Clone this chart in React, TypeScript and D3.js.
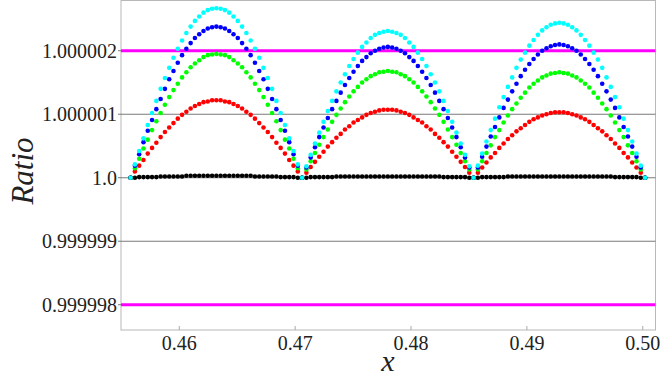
// App.tsx

import React, { useEffect, useRef } from "react";
import * as d3 from "d3";

// sample positions along x
const xs = [
  0.4558, 0.45617, 0.45654, 0.45691, 0.45728, 0.45765, 0.45802, 0.45839, 0.45876, 0.45913,
  0.4595, 0.45987, 0.46024, 0.46061, 0.46098, 0.46135, 0.46172, 0.46209, 0.46246, 0.46283,
  0.4632, 0.46357, 0.46394, 0.46431, 0.46468, 0.46505, 0.46542, 0.46579, 0.46616, 0.46653,
  0.4669, 0.46727, 0.46764, 0.46801, 0.46838, 0.46875, 0.46912, 0.46949, 0.46986, 0.47023,
  0.4706, 0.47097, 0.47134, 0.47171, 0.47208, 0.47245, 0.47282, 0.47319, 0.47356, 0.47393,
  0.4743, 0.47467, 0.47504, 0.47541, 0.47578, 0.47615, 0.47652, 0.47689, 0.47726, 0.47763,
  0.478, 0.47837, 0.47874, 0.47911, 0.47948, 0.47985, 0.48022, 0.48059, 0.48096, 0.48133,
  0.4817, 0.48207, 0.48244, 0.48281, 0.48318, 0.48355, 0.48392, 0.48429, 0.48466, 0.48503,
  0.4854, 0.48577, 0.48614, 0.48651, 0.48688, 0.48725, 0.48762, 0.48799, 0.48836, 0.48873,
  0.4891, 0.48947, 0.48984, 0.49021, 0.49058, 0.49095, 0.49132, 0.49169, 0.49206, 0.49243,
  0.4928, 0.49317, 0.49354, 0.49391, 0.49428, 0.49465, 0.49502, 0.49539, 0.49576, 0.49613,
  0.4965, 0.49687, 0.49724, 0.49761, 0.49798, 0.49835, 0.49872, 0.49909, 0.49946, 0.49983,
  0.5002,
];

// (ratio - 1) in units of 1e-6
const cyanVals = [
  0, 0.21, 0.42, 0.62, 0.83, 1.02, 1.21, 1.4, 1.57, 1.73, 1.89, 2.03, 2.16, 2.28, 2.38, 2.47, 2.54, 2.6, 2.64, 2.66, 2.67,
  2.66, 2.64, 2.6, 2.54, 2.47, 2.38, 2.28, 2.16, 2.03, 1.89, 1.73, 1.57, 1.4, 1.21, 1.02, 0.83, 0.62, 0.42, 0.21,
  0, 0.18, 0.36, 0.54, 0.71, 0.88, 1.05, 1.21, 1.36, 1.5, 1.63, 1.76, 1.87, 1.97, 2.06, 2.13, 2.2, 2.25, 2.28, 2.3, 2.31,
  2.3, 2.28, 2.25, 2.2, 2.13, 2.06, 1.97, 1.87, 1.76, 1.63, 1.5, 1.36, 1.21, 1.05, 0.88, 0.71, 0.54, 0.36, 0.18,
  0, 0.19, 0.38, 0.57, 0.75, 0.93, 1.11, 1.27, 1.43, 1.58, 1.73, 1.86, 1.97, 2.08, 2.17, 2.25, 2.32, 2.37, 2.41, 2.43, 2.44,
  2.43, 2.41, 2.37, 2.32, 2.25, 2.17, 2.08, 1.97, 1.86, 1.73, 1.58, 1.43, 1.27, 1.11, 0.93, 0.75, 0.57, 0.38, 0.19,
  0,
];
const blueVals = [
  0, 0.19, 0.37, 0.56, 0.74, 0.91, 1.08, 1.24, 1.4, 1.55, 1.68, 1.81, 1.93, 2.03, 2.12, 2.2, 2.26, 2.31, 2.35, 2.37, 2.38,
  2.37, 2.35, 2.31, 2.26, 2.2, 2.12, 2.03, 1.93, 1.81, 1.68, 1.55, 1.4, 1.24, 1.08, 0.91, 0.74, 0.56, 0.37, 0.19,
  0, 0.16, 0.32, 0.48, 0.64, 0.79, 0.94, 1.08, 1.21, 1.34, 1.46, 1.57, 1.67, 1.76, 1.84, 1.9, 1.96, 2.0, 2.03, 2.05, 2.06,
  2.05, 2.03, 2.0, 1.96, 1.9, 1.84, 1.76, 1.67, 1.57, 1.46, 1.34, 1.21, 1.08, 0.94, 0.79, 0.64, 0.48, 0.32, 0.16,
  0, 0.16, 0.33, 0.49, 0.65, 0.8, 0.95, 1.1, 1.23, 1.36, 1.48, 1.6, 1.7, 1.79, 1.87, 1.94, 2.0, 2.04, 2.07, 2.09, 2.1,
  2.09, 2.07, 2.04, 2.0, 1.94, 1.87, 1.79, 1.7, 1.6, 1.48, 1.36, 1.23, 1.1, 0.95, 0.8, 0.65, 0.49, 0.33, 0.16,
  0,
];
const greenVals = [
  0, 0.15, 0.3, 0.46, 0.6, 0.75, 0.89, 1.02, 1.15, 1.27, 1.38, 1.48, 1.58, 1.66, 1.74, 1.8, 1.85, 1.9, 1.93, 1.94, 1.95,
  1.94, 1.93, 1.9, 1.85, 1.8, 1.74, 1.66, 1.58, 1.48, 1.38, 1.27, 1.15, 1.02, 0.89, 0.75, 0.6, 0.46, 0.3, 0.15,
  0, 0.13, 0.26, 0.39, 0.52, 0.64, 0.76, 0.88, 0.99, 1.09, 1.19, 1.28, 1.36, 1.43, 1.5, 1.55, 1.6, 1.63, 1.66, 1.67, 1.68,
  1.67, 1.66, 1.63, 1.6, 1.55, 1.5, 1.43, 1.36, 1.28, 1.19, 1.09, 0.99, 0.88, 0.76, 0.64, 0.52, 0.39, 0.26, 0.13,
  0, 0.13, 0.26, 0.39, 0.51, 0.64, 0.75, 0.87, 0.98, 1.08, 1.17, 1.26, 1.34, 1.42, 1.48, 1.53, 1.58, 1.61, 1.64, 1.65, 1.66,
  1.65, 1.64, 1.61, 1.58, 1.53, 1.48, 1.42, 1.34, 1.26, 1.17, 1.08, 0.98, 0.87, 0.75, 0.64, 0.51, 0.39, 0.26, 0.13,
  0,
];
const redVals = [
  0, 0.1, 0.19, 0.28, 0.38, 0.47, 0.55, 0.64, 0.72, 0.79, 0.86, 0.93, 0.99, 1.04, 1.09, 1.13, 1.16, 1.19, 1.2, 1.22, 1.22,
  1.22, 1.2, 1.19, 1.16, 1.13, 1.09, 1.04, 0.99, 0.93, 0.86, 0.79, 0.72, 0.64, 0.55, 0.47, 0.38, 0.28, 0.19, 0.1,
  0, 0.08, 0.17, 0.25, 0.33, 0.41, 0.49, 0.56, 0.63, 0.69, 0.76, 0.81, 0.87, 0.91, 0.95, 0.99, 1.02, 1.04, 1.06, 1.07, 1.07,
  1.07, 1.06, 1.04, 1.02, 0.99, 0.95, 0.91, 0.87, 0.81, 0.76, 0.69, 0.63, 0.56, 0.49, 0.41, 0.33, 0.25, 0.17, 0.08,
  0, 0.08, 0.16, 0.24, 0.32, 0.39, 0.47, 0.54, 0.61, 0.67, 0.73, 0.78, 0.83, 0.88, 0.92, 0.95, 0.98, 1.0, 1.02, 1.03, 1.03,
  1.03, 1.02, 1.0, 0.98, 0.95, 0.92, 0.88, 0.83, 0.78, 0.73, 0.67, 0.61, 0.54, 0.47, 0.39, 0.32, 0.24, 0.16, 0.08,
  0,
];
const blackVals = [
  0, 0, 0.01, 0.01, 0.01, 0.01, 0.01, 0.02, 0.02, 0.02, 0.02, 0.02, 0.02, 0.03, 0.03, 0.03, 0.03, 0.03, 0.03, 0.03, 0.03,
  0.03, 0.03, 0.03, 0.03, 0.03, 0.03, 0.03, 0.03, 0.02, 0.02, 0.02, 0.02, 0.02, 0.02, 0.01, 0.01, 0.01, 0.01, 0,
  0, 0, 0.01, 0.01, 0.01, 0.01, 0.01, 0.01, 0.02, 0.02, 0.02, 0.02, 0.02, 0.02, 0.02, 0.02, 0.02, 0.02, 0.02, 0.02, 0.02,
  0.02, 0.02, 0.02, 0.02, 0.02, 0.02, 0.02, 0.02, 0.02, 0.02, 0.02, 0.02, 0.01, 0.01, 0.01, 0.01, 0.01, 0.01, 0,
  0, 0, 0.01, 0.01, 0.01, 0.01, 0.01, 0.01, 0.02, 0.02, 0.02, 0.02, 0.02, 0.02, 0.02, 0.02, 0.02, 0.02, 0.02, 0.02, 0.02,
  0.02, 0.02, 0.02, 0.02, 0.02, 0.02, 0.02, 0.02, 0.02, 0.02, 0.02, 0.02, 0.01, 0.01, 0.01, 0.01, 0.01, 0.01, 0,
  0,
];

const xTicks = [0.46, 0.47, 0.48, 0.49, 0.5];
const xTickLabels = ["0.46", "0.47", "0.48", "0.49", "0.50"];
const yTicks = [-2, -1, 0, 1, 2];
const yTickLabels = ["0.999998", "0.999999", "1.0", "1.000001", "1.000002"];
const grayLines = [-1, 0, 1];
const magentaLines = [-2, 2];

const seriesOrder = [
  { name: "red", vals: redVals, color: "#ff0000" },
  { name: "green", vals: greenVals, color: "#00ff00" },
  { name: "blue", vals: blueVals, color: "#0000ff" },
  { name: "black", vals: blackVals, color: "#000000" },
  { name: "cyan", vals: cyanVals, color: "#00ffff" },
];

const App = () => {
  const svgRef = useRef<SVGSVGElement>(null);
  const width = 664;
  const height = 377;
  const left = 121;
  const right = 655.5;
  const top = 0.5;
  const bottom = 330;

  useEffect(() => {
    const svg = d3.select(svgRef.current);
    svg.selectAll("*").remove();

    const x = d3.scaleLinear().domain([0.45497, 0.5011]).range([left, right]);
    const y = d3.scaleLinear().domain([-2.398, 2.791]).range([bottom, top]);
    const serif = "Liberation Serif, DejaVu Serif, Times New Roman, serif";

    // frame
    svg
      .append("rect")
      .attr("x", left)
      .attr("y", top)
      .attr("width", right - left)
      .attr("height", bottom - top)
      .attr("fill", "none")
      .attr("stroke", "#b8b8b8")
      .attr("stroke-width", 1);

    // x ticks (inside, bottom)
    svg
      .selectAll(".xt")
      .data(xTicks)
      .enter()
      .append("line")
      .attr("x1", (d) => x(d))
      .attr("x2", (d) => x(d))
      .attr("y1", bottom)
      .attr("y2", bottom - 4)
      .attr("stroke", "#aaa");

    svg
      .selectAll(".xl")
      .data(xTicks)
      .enter()
      .append("text")
      .attr("x", (d) => x(d))
      .attr("y", 350)
      .attr("text-anchor", "middle")
      .attr("font-family", serif)
      .attr("font-size", 20)
      .attr("fill", "#222")
      .text((d, i) => xTickLabels[i]);

    // y ticks
    svg
      .selectAll(".yt")
      .data(yTicks)
      .enter()
      .append("line")
      .attr("x1", left - 3)
      .attr("x2", left)
      .attr("y1", (d) => y(d))
      .attr("y2", (d) => y(d))
      .attr("stroke", "#777");

    svg
      .selectAll(".yl")
      .data(yTicks)
      .enter()
      .append("text")
      .attr("x", 117)
      .attr("y", (d) => y(d) + 7)
      .attr("text-anchor", "end")
      .attr("font-family", serif)
      .attr("font-size", 20)
      .attr("fill", "#222")
      .text((d, i) => yTickLabels[i]);

    // reference lines
    svg
      .selectAll(".gl")
      .data(grayLines)
      .enter()
      .append("line")
      .attr("x1", left)
      .attr("x2", right)
      .attr("y1", (d) => y(d))
      .attr("y2", (d) => y(d))
      .attr("stroke", "#7a7a7a")
      .attr("stroke-width", 1.2);

    svg
      .selectAll(".ml")
      .data(magentaLines)
      .enter()
      .append("line")
      .attr("x1", left)
      .attr("x2", right)
      .attr("y1", (d) => y(d))
      .attr("y2", (d) => y(d))
      .attr("stroke", "#ff00ff")
      .attr("stroke-width", 3);

    // points
    seriesOrder.forEach((s) => {
      svg
        .append("g")
        .selectAll("circle")
        .data(s.vals)
        .enter()
        .append("circle")
        .attr("cx", (d, i) => x(xs[i]))
        .attr("cy", (d) => y(d))
        .attr("r", 2.3)
        .attr("fill", s.color);
    });

    // axis labels
    svg
      .append("text")
      .attr("transform", `translate(33, 171) rotate(-90)`)
      .attr("text-anchor", "middle")
      .attr("font-family", serif)
      .attr("font-style", "italic")
      .attr("font-size", 31)
      .attr("fill", "#222")
      .text("Ratio");

    svg
      .append("text")
      .attr("x", 388)
      .attr("y", 371)
      .attr("text-anchor", "middle")
      .attr("font-family", serif)
      .attr("font-style", "italic")
      .attr("font-size", 30)
      .attr("fill", "#222")
      .text("x");
  }, []);

  return (
    <svg
      ref={svgRef}
      width={width}
      height={height}
      style={{ position: "absolute", left: 0, top: 0, background: "#fff" }}
    ></svg>
  );
};

export default App;
